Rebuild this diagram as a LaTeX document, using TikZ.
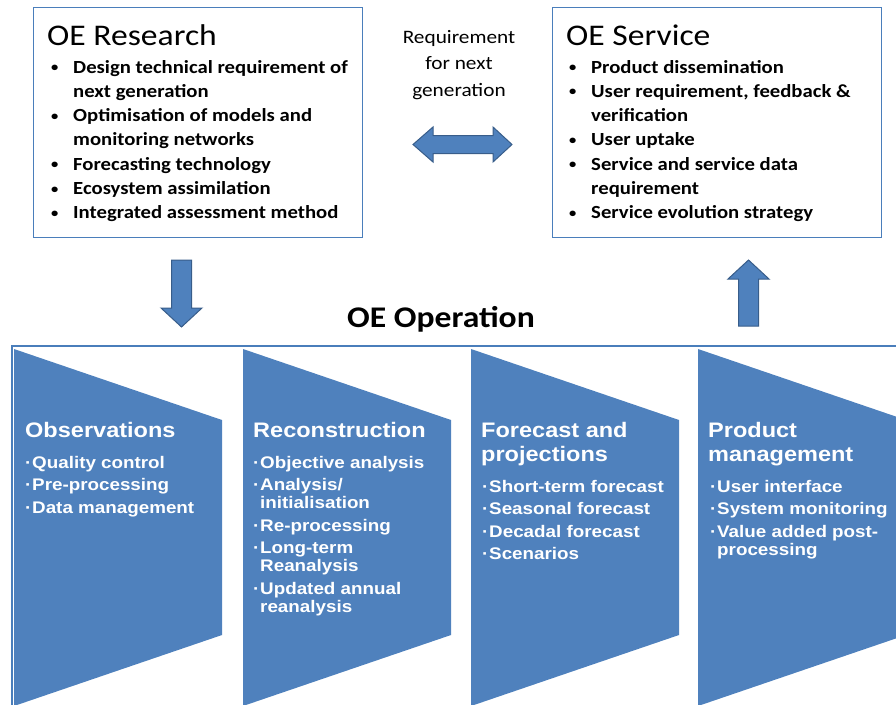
\documentclass[tikz,border=0pt]{standalone}
\usepackage{fontspec}
\setmainfont{Carlito}[FakeStretch=1.12]
\newfontfamily\opfont{Liberation Sans}[FakeStretch=1.12]
\usetikzlibrary{positioning}

\definecolor{oeblue}{HTML}{4F81BD}
\definecolor{oedark}{HTML}{385D8A}
\definecolor{oeline}{HTML}{4A7EBB}

\newcommand{\rbul}{\makebox[24pt][l]{\hspace{2pt}\raisebox{1.5pt}{\fontsize{13}{13}\selectfont •}}}
\newcommand{\rcont}{\hspace*{24pt}}
\newcommand{\obul}{\makebox[7pt][l]{·}}
\newcommand{\ocont}{\hspace*{7pt}}

\begin{document}
\begin{tikzpicture}[x=1pt, y=-1pt,
    topbox/.style={draw=oeline, line width=1.2pt, inner sep=0, minimum width=329pt, minimum height=230pt},
    boxtitle/.style={inner sep=0, font=\fontsize{30}{30}\selectfont},
    boxlist/.style={inner sep=0, align=left, font=\fontsize{18.5}{24.3}\selectfont\bfseries},
    optitle/.style={inner sep=0, align=left, text=white, font=\opfont\bfseries\fontsize{21}{24}\selectfont},
    oplist/.style={inner sep=0, align=left, text=white, font=\opfont\bfseries\fontsize{16.8}{18}\selectfont},
    blockarrow/.style={fill=oeblue, draw=oedark, line width=1pt, line join=miter}]
        \clip (0,0) rectangle (896,704);

        % 1. Research and Service boxes (lists sit on the baseline of their last line)
        \node[topbox, anchor=north west] (research) at (33,7) {};
        \node[boxtitle, anchor=base west] (researchT) at (47,45) {OE Research};
        \node[boxlist, anchor=base west] (researchL) at (49,218.8) {\rbul Design technical requirement of\\
            \rcont next generation\\
            \rbul Optimisation of models and\\
            \rcont monitoring networks\\
            \rbul Forecasting technology\\
            \rbul Ecosystem assimilation\\
            \rbul Integrated assessment method};

        \node[topbox, anchor=north west] (service) at (552,7) {};
        \node[boxtitle, anchor=base west] (serviceT) at (566,45) {OE Service};
        \node[boxlist, anchor=base west] (serviceL) at (567,218.8) {\rbul Product dissemination\\
            \rbul User requirement, feedback \&\\
            \rcont verification\\
            \rbul User uptake\\
            \rbul Service and service data\\
            \rcont requirement\\
            \rbul Service evolution strategy};

        % 2. Block arrows
        \node[align=center, inner sep=0, font=\fontsize{19}{26.5}\selectfont] (reqlabel) at (459,65) {Requirement\\for next\\generation};
        \draw[blockarrow] (413,144.5) -- (433,127) -- (433,135.5) -- (493,135.5) -- (493,127)
            -- (512,144.5) -- (493,162) -- (493,153.5) -- (433,153.5) -- (433,162) -- cycle;
        \draw[blockarrow] (171.5,260) -- (191.5,260) -- (191.5,308) -- (202,308) -- (181.5,327)
            -- (161,308) -- (171.5,308) -- cycle;
        \draw[blockarrow] (748.5,260) -- (769,279) -- (758.5,279) -- (758.5,326) -- (738.5,326)
            -- (738.5,279) -- (728,279) -- cycle;

        % 3. Operation frame and its stages
        \node[inner sep=0, font=\fontsize{30}{30}\selectfont\bfseries, anchor=base] (opT) at (441,327) {OE Operation};
        \draw[oeline, line width=1.2pt] (12,346) rectangle (920,720);
        \foreach \px in {14,243,471,698}
            \fill[oeblue] (\px,349) -- ++(208,71) -- ++(0,215) -- ++(-208,71) -- cycle;

        \node[optitle, anchor=base west] (obsT) at (25,437) {Observations};
        \node[oplist, anchor=base west] (obsL) at (25,513) {\obul Quality control\\[4.5pt]
            \obul Pre-processing\\[4.5pt]
            \obul Data management};

        \node[optitle, anchor=base west] (recT) at (253,437) {Reconstruction};
        \node[oplist, anchor=base west] (recL) at (253,612) {\obul Objective analysis\\[4.5pt]
            \obul Analysis/\\ \ocont initialisation\\[4.5pt]
            \obul Re-processing\\[4.5pt]
            \obul Long-term\\ \ocont Reanalysis\\[4.5pt]
            \obul Updated annual\\ \ocont reanalysis};

        \node[optitle, anchor=base west] (fcstT) at (481,461) {Forecast and\\projections};
        \node[oplist, anchor=base west] (fcstL) at (482,559.5) {\obul Short-term forecast\\[4.5pt]
            \obul Seasonal forecast\\[4.5pt]
            \obul Decadal forecast\\[4.5pt]
            \obul Scenarios};

        \node[optitle, anchor=base west] (prodT) at (708,461) {Product\\management};
        \node[oplist, anchor=base west] (prodL) at (710,555) {\obul User interface\\[4.5pt]
            \obul System monitoring\\[4.5pt]
            \obul Value added post-\\ \ocont processing};
    \end{tikzpicture}
\end{document}
